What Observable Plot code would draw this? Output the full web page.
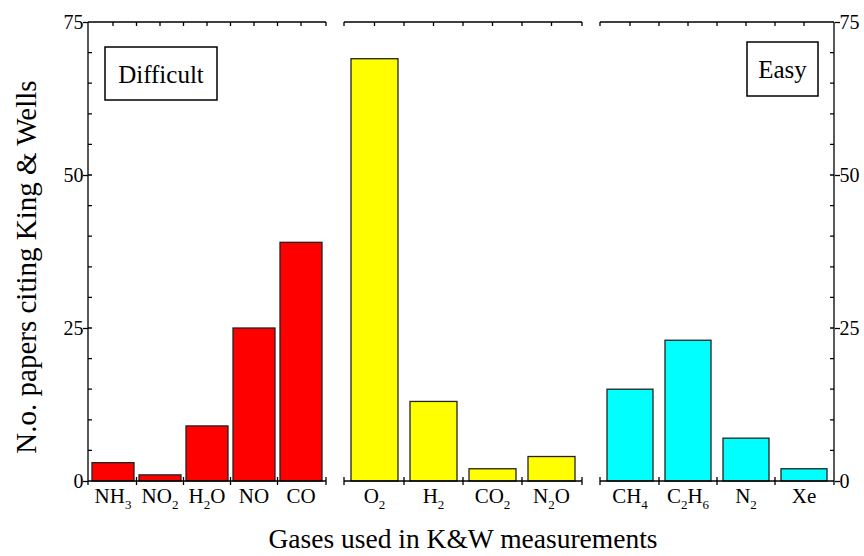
<!DOCTYPE html>
<html><head><meta charset="utf-8">
<script src="https://cdn.jsdelivr.net/npm/d3@7"></script>
<script src="https://cdn.jsdelivr.net/npm/@observablehq/plot@0.6"></script>
<style>
body{margin:0;background:#fff;}
#chart{position:relative;width:864px;height:556px;font-family:"Liberation Serif","Times New Roman",serif;color:#000;overflow:hidden;}
#chart svg{position:absolute;top:0;}
.ttl{position:absolute;white-space:nowrap;line-height:1;}
</style></head><body><div id="chart"></div>
<script>
// ---- data ----
const difficultGases = ["NH3","NO2","H2O","NO","CO"];
const difficultCounts = [3,1,9,25,39];
const mediumGases = ["O2","H2","CO2","N2O"];
const mediumCounts = [69,13,2,4];
const easyGases = ["CH4","C2H6","N2","Xe"];
const easyCounts = [15,23,7,2];
const yTicks = [0,25,50,75];
const yMinorTicks = d3.range(0,76,5);
const yTitle = "N.o. papers citing King & Wells";
const xTitle = "Gases used in K&W measurements";
const panelColors = ["#ff0000","#ffff00","#00ffff"];

const FONT = "Liberation Serif, Times New Roman, serif";

function panelFrame({left, right, box}) {
  return (index, scales, values, dims) => {
    const sx = scales.x, sy = scales.y;
    const x0 = dims.marginLeft, x1 = dims.width - dims.marginRight;
    const yb = sy(0), yt = sy(75);
    const dom = sx.domain();
    const bw = typeof sx.bandwidth === "function" ? sx.bandwidth() : sx.bandwidth;
    const step = typeof sx.step === "function" ? sx.step() : (dom.length > 1 ? sx(dom[1]) - sx(dom[0]) : bw);
    const g = d3.create("svg:g");
    const p = [];
    p.push(`M${x0},${yt}H${x1}`, `M${x0},${yb}H${x1}`);
    if (left) p.push(`M${x0},${yt}V${yb}`);
    if (right) p.push(`M${x1},${yt}V${yb}`);
    const tops = [x0, x1], bots = [x0, x1];
    dom.forEach((d, i) => {
      tops.push(sx(d) + bw / 2);
      if (i > 0) { const b = sx(d) - (step - bw) / 2; tops.push(b); bots.push(b); }
    });
    tops.forEach(x => p.push(`M${x},${yt}v4`));
    bots.forEach(x => p.push(`M${x},${yb - 4}v8`));
    yMinorTicks.forEach(v => {
      const y = sy(v);
      if (left) p.push(`M${x0},${y}h4`);
      if (right) p.push(`M${x1},${y}h-4`);
    });
    g.append("path").attr("d", p.join("")).attr("fill", "none").attr("stroke", "#000").attr("stroke-width", 1.3);
    // category labels with subscripts
    const lab = g.append("g").attr("font-size", 21).attr("text-anchor", "middle").attr("fill", "#000").attr("font-family", FONT);
    dom.forEach(d => {
      const t = lab.append("text").attr("x", sx(d) + bw / 2).attr("y", yb + 22);
      let shifted = false;
      for (const part of d.match(/[A-Za-z]+|\d+/g)) {
        const isSub = /\d/.test(part);
        const ts = t.append("tspan").text(part);
        if (isSub) { ts.attr("font-size", 13); if (!shifted) { ts.attr("dy", 6); shifted = true; } }
        else if (shifted) { ts.attr("dy", -6); shifted = false; }
      }
    });
    if (box) {
      const bx = box.right != null ? x1 - box.right - box.w : x0 + box.left;
      const by = yt + box.top;
      g.append("rect").attr("x", bx).attr("y", by).attr("width", box.w).attr("height", box.h)
        .attr("fill", "#fff").attr("stroke", "#000").attr("stroke-width", 1.5);
      g.append("text").attr("x", bx + box.w / 2).attr("y", by + box.h / 2 + 9)
        .attr("text-anchor", "middle").attr("font-size", 25).attr("font-family", FONT).attr("fill", "#000").text(box.text);
    }
    return g.node();
  };
}

function panel(gases, counts, color, o) {
  const data = gases.map((g, i) => ({gas: g, n: counts[i]}));
  return Plot.plot({
    width: o.width, height: 556,
    marginLeft: o.ml, marginRight: o.mr, marginTop: 22, marginBottom: 75,
    x: {type: "band", domain: gases, paddingInner: o.pi, paddingOuter: o.po, axis: null},
    y: {domain: [0, 75], axis: null},
    style: {fontFamily: FONT, fontSize: "20px", background: "transparent", overflow: "visible", color: "#000"},
    marks: [
      Plot.barY(data, {x: "gas", y: "n", fill: color, stroke: "#222", strokeWidth: 1.3}),
      panelFrame({left: o.left, right: o.right, box: o.box}),
      o.left ? Plot.axisY({ticks: yTicks, anchor: "left", tickSize: 5, tickPadding: 0, fontSize: 20, label: null, stroke: "#000", strokeWidth: 1.3}) : null,
      o.right ? Plot.axisY({ticks: yTicks, anchor: "right", tickSize: 5, tickPadding: 0, fontSize: 20, label: null, stroke: "#000", strokeWidth: 1.3}) : null
    ]
  });
}

const chart = document.getElementById("chart");
const p1 = panel(difficultGases, difficultCounts, panelColors[0],
  {width: 330, ml: 88, mr: 4, pi: 0.1, po: 0.06, left: true, right: false,
   box: {text: "Difficult", left: 17, top: 25, w: 112, h: 53}});
const p2 = panel(mediumGases, mediumCounts, panelColors[1],
  {width: 246, ml: 4, mr: 4, pi: 0.2, po: 0.1, left: false, right: false});
const p3 = panel(easyGases, easyCounts, panelColors[2],
  {width: 268, ml: 4, mr: 30, pi: 0.2, po: 0.1, left: false, right: true,
   box: {text: "Easy", right: 16, top: 20, w: 71, h: 54}});
p1.style.left = "0px"; p2.style.left = "340px"; p3.style.left = "596px";
chart.append(p1, p2, p3);

const xt = document.createElement("div");
xt.className = "ttl"; xt.textContent = xTitle;
xt.style.fontSize = "27.5px"; xt.style.left = "463px"; xt.style.top = "525px"; xt.style.transform = "translateX(-50%)";
chart.append(xt);

const yt = document.createElement("div");
yt.className = "ttl"; yt.textContent = yTitle;
yt.style.fontSize = "29px"; yt.style.left = "26px"; yt.style.top = "267px";
yt.style.transform = "translate(-50%,-50%) rotate(-90deg)";
chart.append(yt);
</script></body></html>
